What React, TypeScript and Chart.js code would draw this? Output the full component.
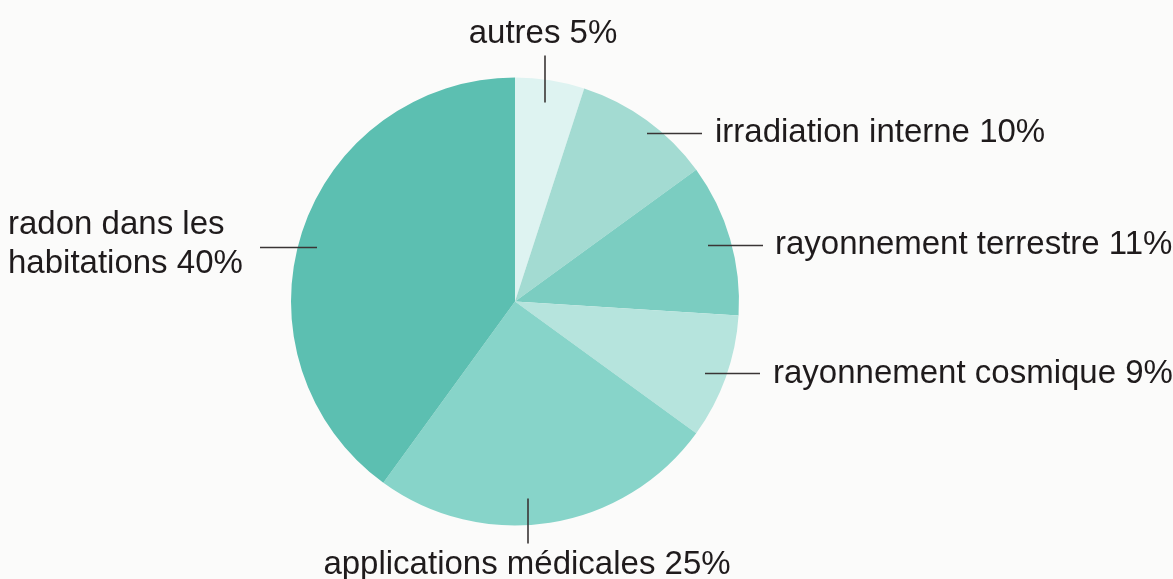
import React, { useEffect, useRef } from "react";
import { Chart, registerables } from "chart.js";

Chart.register(...registerables);

const categories = [
  "autres",
  "irradiation interne",
  "rayonnement terrestre",
  "rayonnement cosmique",
  "applications médicales",
  "radon dans les habitations",
];
const values = [5, 10, 11, 9, 25, 40];
const labelTexts = [
  ["autres 5%"],
  ["irradiation interne 10%"],
  ["rayonnement terrestre 11%"],
  ["rayonnement cosmique 9%"],
  ["applications médicales 25%"],
  ["radon dans les", "habitations 40%"],
];
const colors = ["#def3f1", "#a3dbd2", "#7bcdc1", "#b6e4dd", "#87d4c9", "#5cbfb1"];

// label layout relative to pie centre (pixels): leader line start/end, text anchor
type Lay = { l: [number, number, number, number]; t: [number, number]; align: CanvasTextAlign };
const layout: Lay[] = [
  { l: [30, -199, 30, -246], t: [28, -259], align: "center" },
  { l: [132, -168, 187, -168], t: [200, -160], align: "left" },
  { l: [193, -56, 248, -56], t: [260, -48], align: "left" },
  { l: [190, 72, 245, 72], t: [258, 81], align: "left" },
  { l: [13, 197, 13, 242], t: [12, 272], align: "center" },
  { l: [-198, -54, -255, -54], t: [-507, -68], align: "left" },
];

const labelPlugin = {
  id: "leaderLabels",
  beforeDraw(chart: any) {
    const { ctx, width, height } = chart;
    ctx.save();
    ctx.fillStyle = "#fbfbfa";
    ctx.fillRect(0, 0, width, height);
    ctx.restore();
  },
  afterDraw(chart: any) {
    const { ctx } = chart;
    const meta = chart.getDatasetMeta(0);
    const arc = meta.data[0];
    const cx = arc.x;
    const cy = arc.y;
    ctx.save();
    ctx.strokeStyle = "#3a3535";
    ctx.lineWidth = 1.6;
    ctx.fillStyle = "#1f1b1c";
    ctx.font = '33px "Liberation Sans", Arial, sans-serif';
    ctx.textBaseline = "alphabetic";
    layout.forEach((lay, i) => {
      ctx.beginPath();
      ctx.moveTo(cx + lay.l[0], cy + lay.l[1]);
      ctx.lineTo(cx + lay.l[2], cy + lay.l[3]);
      ctx.stroke();
      ctx.textAlign = lay.align;
      labelTexts[i].forEach((line, j) => {
        ctx.fillText(line, cx + lay.t[0], cy + lay.t[1] + j * 39);
      });
    });
    ctx.restore();
  },
};

export default function App() {
  const ref = useRef<HTMLCanvasElement | null>(null);
  useEffect(() => {
    if (!ref.current) return;
    const chart = new Chart(ref.current, {
      type: "pie",
      data: {
        labels: categories,
        datasets: [
          {
            data: values,
            backgroundColor: colors,
            borderWidth: 0,
          },
        ],
      },
      options: {
        animation: false,
        responsive: true,
        maintainAspectRatio: false,
        layout: { padding: { left: 291, right: 434, top: 77, bottom: 53 } },
        plugins: { legend: { display: false }, tooltip: { enabled: false } },
        events: [],
      },
      plugins: [labelPlugin],
    });
    return () => chart.destroy();
  }, []);
  return (
    <div style={{ position: "fixed", left: 0, top: 0, width: 1173, height: 579 }}>
      <canvas ref={ref} />
    </div>
  );
}
